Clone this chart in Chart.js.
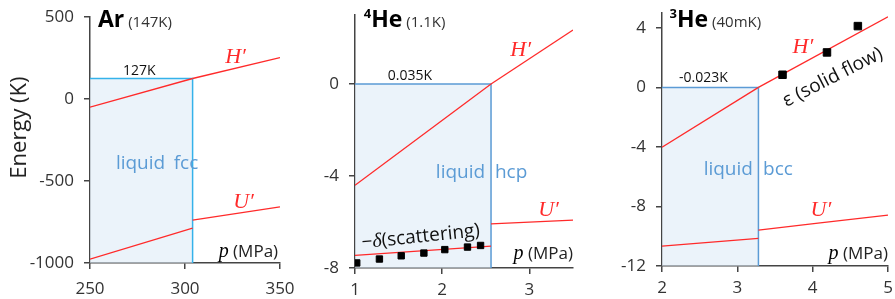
<!DOCTYPE html>
<html>
<head>
<meta charset="utf-8">
<script src="https://cdn.jsdelivr.net/npm/chart.js@4.4.1/dist/chart.umd.min.js"></script>
<style>
  html, body { margin: 0; padding: 0; background: #fff; }
  #wrap { position: relative; width: 895px; height: 299px; overflow: hidden; }
  #wrap canvas { position: absolute; top: 0; }
</style>
</head>
<body>
<div id="wrap">
  <canvas id="ar" width="295" height="299" style="left:0px"></canvas>
  <canvas id="he4" width="295" height="299" style="left:295px"></canvas>
  <canvas id="he3" width="305" height="299" style="left:590px"></canvas>
</div>
<script>
// ---- Ar (147K) ----
const arP = [250, 304, 350];
const arH = [-50, 125, 252];
const arULiqP = [250, 304];
const arULiq = [-977, -788];
const arUSolP = [304, 350];
const arUSol = [-738, -658];
const arMelt = 304;
const arLevel = 125;
const arXTicks = [250, 300, 350];
const arYTicks = [-1000, -500, 0, 500];

// ---- 4He (1.1K) ----
const he4P = [1, 2.56, 3.5];
const he4H = [-4.4, 0, 2.35];
const he4DeltaP = [1, 2.56];
const he4Delta = [-7.45, -7.05];
const he4USolP = [2.56, 3.5];
const he4USol = [-6.08, -5.92];
const he4ScatP = [1.02, 1.28, 1.53, 1.79, 2.03, 2.29, 2.44];
const he4ScatE = [-7.78, -7.61, -7.47, -7.35, -7.2, -7.09, -7.02];
const he4Melt = 2.56;
const he4Level = 0;
const he4XTicks = [1, 2, 3];
const he4YTicks = [-8, -4, 0];

// ---- 3He (40mK) ----
const he3P = [2, 3.28, 5];
const he3H = [-4.02, 0, 4.75];
const he3ULiqP = [2, 3.28];
const he3ULiq = [-10.67, -10.15];
const he3USolP = [3.28, 4.1, 5];
const he3USol = [-9.59, -9.1, -8.58];
const he3FlowP = [3.6, 4.19, 4.6];
const he3FlowE = [0.85, 2.35, 4.12];
const he3Melt = 3.28;
const he3Level = 0;
const he3XTicks = [2, 3, 4, 5];
const he3YTicks = [-12, -8, -4, 0, 4];

const RED = '#ff2a2a';
const BOXFILL = 'rgba(222,235,247,0.6)';
const SANS = "'Open Sans', sans-serif";
const SERIF = "'Liberation Serif', 'DejaVu Serif', serif";

function pts(xs, ys) {
    return xs.map((x, i) => ({ x: x, y: ys[i] }));
}

function redLine(xs, ys) {
    return { data: pts(xs, ys), borderColor: RED, borderWidth: 1.3, pointRadius: 0, fill: false, order: 1 };
}

function squares(xs, ys, r) {
    return { data: pts(xs, ys), showLine: false, pointStyle: 'rect', pointRadius: r, pointHoverRadius: r,
        pointBackgroundColor: '#000', pointBorderColor: '#000', order: 0 };
}

function liquidBox(xMin, xMelt, level, yMin, color) {
    return { data: [{ x: xMin, y: level }, { x: xMelt, y: level }, { x: xMelt, y: yMin }],
        borderColor: color, borderWidth: 1.5, pointRadius: 0, fill: 'start', backgroundColor: BOXFILL, order: 5 };
}

// text drawn in data coordinates, each label made of styled parts
const textPlugin = {
    id: 'texts',
    afterDatasetsDraw(chart, args, opts) {
        const ctx = chart.ctx;
        const xs = chart.scales.x, ys = chart.scales.y;
        (opts.items || []).forEach(item => {
            ctx.save();
            ctx.translate(xs.getPixelForValue(item.x), ys.getPixelForValue(item.y));
            if (item.rotate) ctx.rotate(item.rotate * Math.PI / 180);
            ctx.textBaseline = 'alphabetic';
            let total = 0;
            item.parts.forEach(p => { ctx.font = p.font; total += ctx.measureText(p.t).width; });
            let cx = item.align === 'right' ? -total : item.align === 'center' ? -total / 2 : 0;
            item.parts.forEach(p => {
                ctx.font = p.font;
                ctx.fillStyle = p.color || item.color || '#000';
                ctx.fillText(p.t, cx, p.dy || 0);
                cx += ctx.measureText(p.t).width;
            });
            ctx.restore();
        });
    }
};

function pLabel(x, y) {
    return { x: x, y: y, align: 'right', parts: [
        { t: 'p', font: 'italic 20px ' + SERIF },
        { t: ' (MPa)', font: '17px ' + SANS, color: '#222' }
    ] };
}

function prime(letter, x, y) {
    return { x: x, y: y, align: 'center', parts: [{ t: letter + '\u2032', font: 'italic 22px ' + SERIF, color: RED }] };
}

function phases(liqX, solX, y, solid) {
    return [
        { x: liqX, y: y, align: 'center', parts: [{ t: 'liquid', font: '19px ' + SANS, color: '#5b9bd5' }] },
        { x: solX, y: y, align: 'center', parts: [{ t: solid, font: '19px ' + SANS, color: '#5b9bd5' }] }
    ];
}

function heading(sup, name, temp, x, y) {
    const parts = [];
    if (sup) parts.push({ t: sup, font: 'bold 13px ' + SANS, color: '#000', dy: -9 });
    parts.push({ t: name, font: 'bold 23px ' + SANS, color: '#000' });
    parts.push({ t: ' ' + temp, font: '15px ' + SANS, color: '#333' });
    return { x: x, y: y, parts: parts };
}

// keep the plot area exactly where the layout padding puts it
function noOverflow(s) {
    s.paddingTop = 0; s.paddingBottom = 0; s.paddingLeft = 0; s.paddingRight = 0;
}

function makePanel(id, opt) {
    const axisColor = '#444';
    new Chart(document.getElementById(id), {
        type: 'line',
        data: { datasets: opt.datasets },
        options: {
            responsive: false,
            animation: false,
            layout: { padding: { top: opt.top, right: opt.right, left: 0, bottom: 0 } },
            plugins: { legend: { display: false }, tooltip: { enabled: false }, texts: { items: opt.texts } },
            scales: {
                x: {
                    type: 'linear', min: opt.xMin, max: opt.xMax,
                    afterBuildTicks: s => { s.ticks = opt.xTicks.map(v => ({ value: v })); },
                    afterFit: s => { s.height = opt.xHeight; noOverflow(s); },
                    grid: { drawOnChartArea: false, drawTicks: true, tickLength: 6, color: axisColor, lineWidth: 1.5 },
                    border: { color: axisColor, width: 1.5 },
                    ticks: { font: { family: SANS, size: 17 }, color: '#333', padding: opt.xPad, maxRotation: 0,
                        callback: v => String(v) }
                },
                y: {
                    type: 'linear', min: opt.yMin, max: opt.yMax,
                    afterBuildTicks: s => { s.ticks = opt.yTicks.map(v => ({ value: v })); },
                    afterFit: s => { s.width = opt.yWidth; noOverflow(s); },
                    grid: { drawOnChartArea: false, drawTicks: true, tickLength: 6, color: axisColor, lineWidth: 1.5 },
                    border: { color: axisColor, width: 1.5 },
                    ticks: { font: { family: SANS, size: 17 }, color: '#333', padding: 10,
                        callback: v => String(v) }
                }
            }
        },
        plugins: [textPlugin]
    });
}

makePanel('ar', {
    xMin: 250, xMax: 350, yMin: -1000, yMax: 500,
    xTicks: arXTicks, yTicks: arYTicks,
    top: 17, right: 15, yWidth: 90, xHeight: 36, xPad: 10,
    datasets: [
        redLine(arP.slice(0, 2), arH.slice(0, 2)),
        redLine(arP.slice(1), arH.slice(1)),
        redLine(arULiqP, arULiq),
        redLine(arUSolP, arUSol),
        liquidBox(250, arMelt, arLevel, -1000, '#35b2ea')
    ],
    texts: [
        { x: 216.3, y: -174, align: 'center', rotate: -90, parts: [{ t: 'Energy (K)', font: '22px ' + SANS, color: '#222' }] },
        heading('', 'Ar', '(147K)', 254.2, 439),
        { x: 276, y: 146, align: 'center', parts: [{ t: '127K', font: '14px ' + SANS, color: '#111' }] },
        prime('H', 326.6, 219),
        prime('U', 330.8, -665),
        ...phases(276.6, 300.5, -425, 'fcc'),
        pLabel(349, -961)
    ]
});

makePanel('he4', {
    xMin: 1, xMax: 3.5, yMin: -8, yMax: 3,
    xTicks: he4XTicks, yTicks: he4YTicks,
    top: 15, right: 17, yWidth: 60, xHeight: 31, xPad: 6,
    datasets: [
        squares(he4ScatP, he4ScatE, 4.5),
        redLine(he4P.slice(0, 2), he4H.slice(0, 2)),
        redLine(he4P.slice(1), he4H.slice(1)),
        redLine(he4DeltaP, he4Delta),
        redLine(he4USolP, he4USol),
        liquidBox(1, he4Melt, he4Level, -8, '#5b9bd5')
    ],
    texts: [
        heading('4', 'He', '(1.1K)', 1.10, 2.49),
        { x: 1.63, y: 0.19, align: 'center', parts: [{ t: '0.035K', font: '14px ' + SANS, color: '#111' }] },
        prime('H', 2.90, 1.2),
        prime('U', 3.22, -5.73),
        ...phases(2.21, 2.79, -4.1, 'hcp'),
        { x: 1.76, y: -6.88, align: 'center', rotate: -6, parts: [
            { t: '\u2212', font: '19px ' + SANS, color: '#111' },
            { t: '\u03b4', font: 'italic 20px ' + SERIF, color: '#111' },
            { t: '(scattering)', font: '19px ' + SANS, color: '#111' }
        ] },
        pLabel(3.5, -7.6)
    ]
});

makePanel('he3', {
    xMin: 2, xMax: 5, yMin: -12, yMax: 5,
    xTicks: he3XTicks, yTicks: he3YTicks,
    top: 13, right: 7, yWidth: 72, xHeight: 33, xPad: 6,
    datasets: [
        squares(he3FlowP, he3FlowE, 5.3),
        redLine(he3P.slice(0, 2), he3H.slice(0, 2)),
        redLine(he3P.slice(1), he3H.slice(1)),
        redLine(he3ULiqP, he3ULiq),
        redLine(he3USolP, he3USol),
        liquidBox(2, he3Melt, he3Level, -12, '#5b9bd5')
    ],
    texts: [
        heading('3', 'He', '(40mK)', 2.10, 4.07),
        { x: 2.55, y: 0.38, align: 'center', parts: [{ t: '-0.023K', font: '14px ' + SANS, color: '#111' }] },
        prime('H', 3.87, 2.33),
        prime('U', 4.11, -8.65),
        ...phases(2.88, 3.54, -5.9, 'bcc'),
        { x: 4.3, y: 0.35, align: 'center', rotate: -27, parts: [
            { t: '\u03b5 (solid flow)', font: '19px ' + SANS, color: '#111' }
        ] },
        pLabel(5, -11.56)
    ]
});
</script>
</body>
</html>
